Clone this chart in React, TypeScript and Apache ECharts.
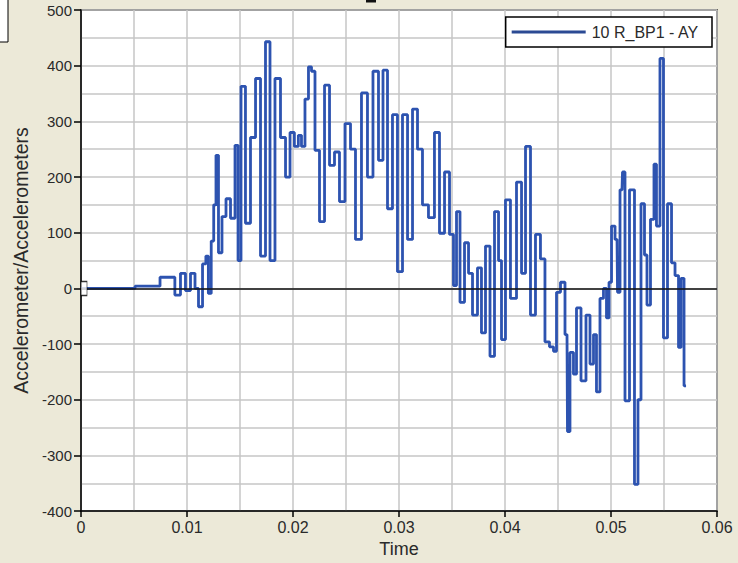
import React, { useEffect, useRef } from "react";
import * as echarts from "echarts";

const seriesName = "10 R_BP1 - AY";
const xAxisName = "Time";
const yAxisName = "Accelerometer/Accelerometers";

const timeValues = [
  0, 0.005, 0.0052, 0.0073, 0.00761, 0.00856, 0.00915, 0.00962, 0.01009, 0.01057,
  0.01094, 0.01123, 0.0117, 0.01186, 0.01217, 0.0124, 0.01264, 0.01283, 0.01311, 0.01349,
  0.01387, 0.01434, 0.01472, 0.01491, 0.01528, 0.01575, 0.01623, 0.0167, 0.01717, 0.01764,
  0.01802, 0.01858, 0.01906, 0.01953, 0.01991, 0.02035, 0.02066, 0.02094, 0.02132, 0.0216,
  0.02189, 0.02226, 0.02274, 0.02321, 0.02368, 0.02415, 0.02462, 0.02519, 0.02566, 0.02613,
  0.02679, 0.02726, 0.02783, 0.0283, 0.02868, 0.02915, 0.02962, 0.03009, 0.03057, 0.03104,
  0.03151, 0.03198, 0.03245, 0.03311, 0.03358, 0.03406, 0.03453, 0.035, 0.03528, 0.03557,
  0.03594, 0.03642, 0.0367, 0.03717, 0.03764, 0.03792, 0.0384, 0.03877, 0.03925, 0.03953,
  0.03981, 0.04028, 0.04075, 0.04142, 0.0417, 0.04217, 0.04264, 0.04311, 0.04358, 0.04396,
  0.04443, 0.04472, 0.045, 0.04547, 0.04585, 0.04594, 0.04632, 0.0466, 0.04689, 0.04745,
  0.04783, 0.04821, 0.04849, 0.04877, 0.04915, 0.04943, 0.04972, 0.04991, 0.05019, 0.05057,
  0.05066, 0.05104, 0.05113, 0.05151, 0.05198, 0.05245, 0.05264, 0.05302, 0.0533, 0.05349,
  0.05396, 0.05415, 0.05443, 0.05481, 0.05509, 0.05557, 0.05585, 0.05623, 0.05651, 0.0567,
  0.05708,
];

const accelValues = [
  0, 0, 4, 4, 20, 20, -12, 27, -4, 27,
  0, -33, 44, 58, -9, 85, 150, 239, 64, 129,
  161, 126, 257, 50, 363, 117, 271, 377, 58, 443,
  50, 377, 271, 200, 280, 255, 275, 255, 340, 398,
  390, 248, 120, 365, 221, 245, 156, 296, 250, 88,
  351, 200, 390, 230, 392, 143, 312, 30, 312, 88,
  322, 250, 150, 127, 280, 99, 209, 97, 5, 138,
  -25, 82, 27, -48, 37, -80, 76, -122, 138, 50,
  -92, 159, -18, 191, 27, 255, -48, 97, 53, -96,
  -105, -113, -7, 11, -83, -257, -115, -154, -35, -166,
  -48, -136, -83, -186, -18, 0, -53, 11, 112, 88,
  -7, 177, 209, -202, 177, -352, -200, 152, 60, -30,
  124, 223, 112, 413, -89, 152, 46, 23, -106, 18,
  -175,
];

const xMin = 0;
const xMax = 0.06;
const xInterval = 0.01;
const yMin = -400;
const yMax = 500;
const yInterval = 100;

const FONT = "'Liberation Sans', Arial, sans-serif";
const TEXT_COLOR = "#2a2a2a";

export default function App() {
  const ref = useRef<HTMLDivElement>(null);

  useEffect(() => {
    if (!ref.current) return;
    const chart = echarts.init(ref.current, undefined, { renderer: "svg" });
    const data = timeValues.map((t, i) => [t, accelValues[i]]);
    const gridLine = { show: true, lineStyle: { color: "#c6c6c6", width: 1.5 } };

    chart.setOption({
      animation: false,
      backgroundColor: "#ece9d8",
      textStyle: { fontFamily: FONT },
      grid: {
        left: 81,
        right: 21,
        top: 10,
        bottom: 45,
        show: true,
        backgroundColor: "#ffffff",
        borderColor: "#000",
        borderWidth: 1.5,
      },
      legend: {
        data: [{ name: seriesName, icon: "rect" }],
        right: 26,
        top: 17,
        orient: "horizontal",
        backgroundColor: "#ffffff",
        borderColor: "#000",
        borderWidth: 1.5,
        borderRadius: 0,
        padding: [7, 13, 7, 6],
        itemWidth: 74,
        itemHeight: 3,
        itemGap: 4,
        itemStyle: { color: "#2b4a94" },
        textStyle: { fontFamily: FONT, fontSize: 16, color: TEXT_COLOR, padding: [0, 0, 0, 1] },
      },
      xAxis: {
        type: "value",
        min: xMin,
        max: xMax,
        interval: xInterval,
        name: xAxisName,
        nameLocation: "middle",
        nameGap: 25,
        nameTextStyle: { fontFamily: FONT, fontSize: 18, color: TEXT_COLOR },
        axisLine: { onZero: false, lineStyle: { color: "#000", width: 1.5 } },
        axisTick: { show: true, inside: false, length: 6, lineStyle: { color: "#000", width: 1.5 } },
        axisLabel: {
          fontFamily: FONT,
          fontSize: 16,
          color: TEXT_COLOR,
          margin: 8,
          formatter: (v: number) => String(+v.toFixed(2)),
        },
        splitLine: gridLine,
        minorTick: { show: false, splitNumber: 2 },
        minorSplitLine: gridLine,
      },
      yAxis: {
        type: "value",
        min: yMin,
        max: yMax,
        interval: yInterval,
        name: yAxisName,
        nameLocation: "middle",
        nameGap: 43,
        nameRotate: 90,
        nameTextStyle: { fontFamily: FONT, fontSize: 19.5, color: TEXT_COLOR },
        axisLine: { show: true, lineStyle: { color: "#000", width: 1.5 } },
        axisTick: { show: true, inside: false, length: 7, lineStyle: { color: "#000", width: 1.5 } },
        axisLabel: { fontFamily: FONT, fontSize: 15, color: TEXT_COLOR, margin: 9 },
        splitLine: gridLine,
        minorTick: { show: false, splitNumber: 2 },
        minorSplitLine: gridLine,
      },
      graphic: [
        {
          type: "rect",
          shape: { x: -2, y: -2, width: 10, height: 44 },
          style: { fill: "#ffffff", stroke: "#000", lineWidth: 1 },
          silent: true,
        },
        {
          type: "rect",
          shape: { x: 366, y: 0, width: 10, height: 2.5 },
          style: { fill: "#111" },
          silent: true,
        },
      ],
      series: [
        {
          name: seriesName,
          type: "line",
          data,
          step: "middle",
          showSymbol: false,
          symbol: "none",
          lineStyle: { color: "#2d53b0", width: 2.8 },
          itemStyle: { color: "#2b4a94" },
          z: 3,
          markLine: {
            silent: true,
            symbol: "none",
            label: { show: false },
            lineStyle: { color: "#111", width: 1.5, type: "solid" },
            data: [{ yAxis: 0 }],
            z: 4,
          },
        },
        {
          type: "scatter",
          data: [[0, 0]],
          symbol: "rect",
          symbolSize: [6, 14],
          symbolOffset: [3, 0],
          itemStyle: { color: "#ffffff", borderColor: "#000", borderWidth: 1 },
          z: 5,
          silent: true,
        },
      ],
    });

    return () => chart.dispose();
  }, []);

  return (
    <div
      ref={ref}
      style={{ position: "fixed", left: 0, top: 0, width: 738, height: 563 }}
    />
  );
}
